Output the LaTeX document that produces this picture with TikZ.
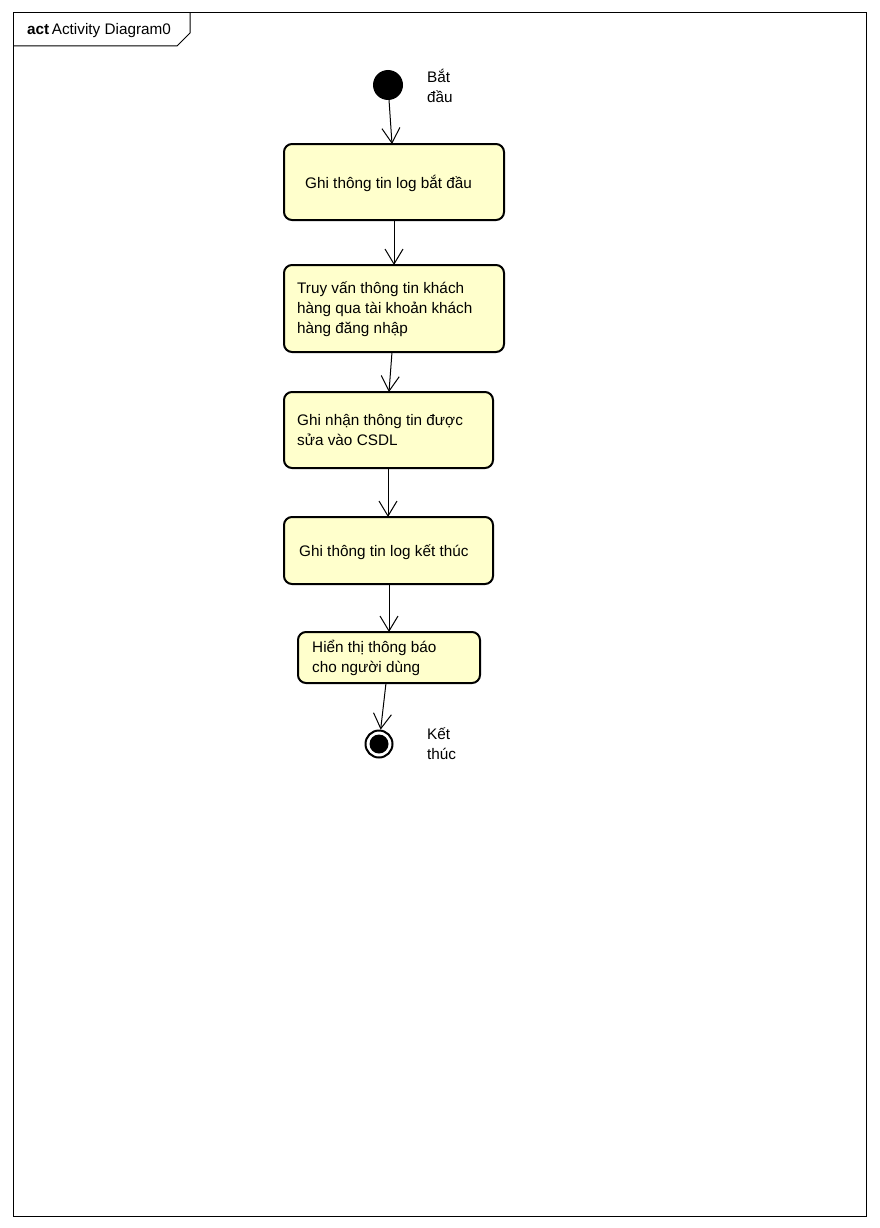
\documentclass[tikz,border=0pt]{standalone}
\usepackage{fontspec}
\setmainfont{Liberation Sans}
\usetikzlibrary{arrows.meta}
\definecolor{actfill}{RGB}{255,255,204}
\begin{document}
\begin{tikzpicture}[x=1pt,y=-1pt,
  actbox/.style={draw, line width=2pt, rounded corners=8pt, fill=actfill},
  lbl/.style={font=\fontsize{15.3}{20}\selectfont, anchor=west, inner sep=0pt, align=left},
  flow/.style={draw, line width=1pt, -{Straight Barb[length=15pt,width=18pt,line width=1pt]}}]
\useasboundingbox (0,0) rectangle (880,1228);
\fill[white] (0,0) rectangle (880,1228);
% frame
\draw[line width=1pt] (13,13) rectangle (866,1216);
\draw[line width=1pt] (13,46) -- (177,46) -- (190,33) -- (190,13);
\node[lbl] (title) at (27,31) {\textbf{act}\,Activity Diagram0};
% initial
\node[circle, fill=black, minimum size=30pt, inner sep=0pt] (start) at (388,85) {};
\node[lbl] (startlbl) at (427,86) {Bắt\\đầu};
% boxes
\draw[actbox] (284,144) rectangle (504,220);
\coordinate (b1t) at (392,144); \coordinate (b1b) at (394,220);
\node[lbl] (t1) at (305,183) {Ghi thông tin log bắt đầu};
\draw[actbox] (284,265) rectangle (504,352);
\coordinate (b2t) at (394,265); \coordinate (b2b) at (392,352);
\node[lbl] (t2) at (297,309) {Truy vấn thông tin khách\\hàng qua tài khoản khách\\hàng đăng nhập};
\draw[actbox] (284,392) rectangle (493,468);
\coordinate (b3t) at (389,392); \coordinate (b3b) at (388,468);
\node[lbl] (t3) at (297,430) {Ghi nhận thông tin được\\sửa vào CSDL};
\draw[actbox] (284,517) rectangle (493,584);
\coordinate (b4t) at (388,517); \coordinate (b4b) at (389,584);
\node[lbl] (t4) at (299,552) {Ghi thông tin log kết thúc};
\draw[actbox] (298,632) rectangle (480,683);
\coordinate (b5t) at (389,632); \coordinate (b5b) at (386,683);
\node[lbl] (t5) at (312,658) {Hiển thị thông báo\\cho người dùng};
% final
\node[circle, draw, line width=2pt, fill=white, minimum size=27pt, inner sep=0pt] (final) at (379,744) {};
\node[circle, fill=black, minimum size=19pt, inner sep=0pt] (finalin) at (379,744) {};
\node[lbl] (endlbl) at (427,744) {Kết\\thúc};
% flows
\draw[flow] (start) -- (b1t);
\draw[flow] (b1b) -- (b2t);
\draw[flow] (b2b) -- (b3t);
\draw[flow] (b3b) -- (b4t);
\draw[flow] (b4b) -- (b5t);
\draw[flow] (b5b) -- (final);
\end{tikzpicture}
\end{document}
